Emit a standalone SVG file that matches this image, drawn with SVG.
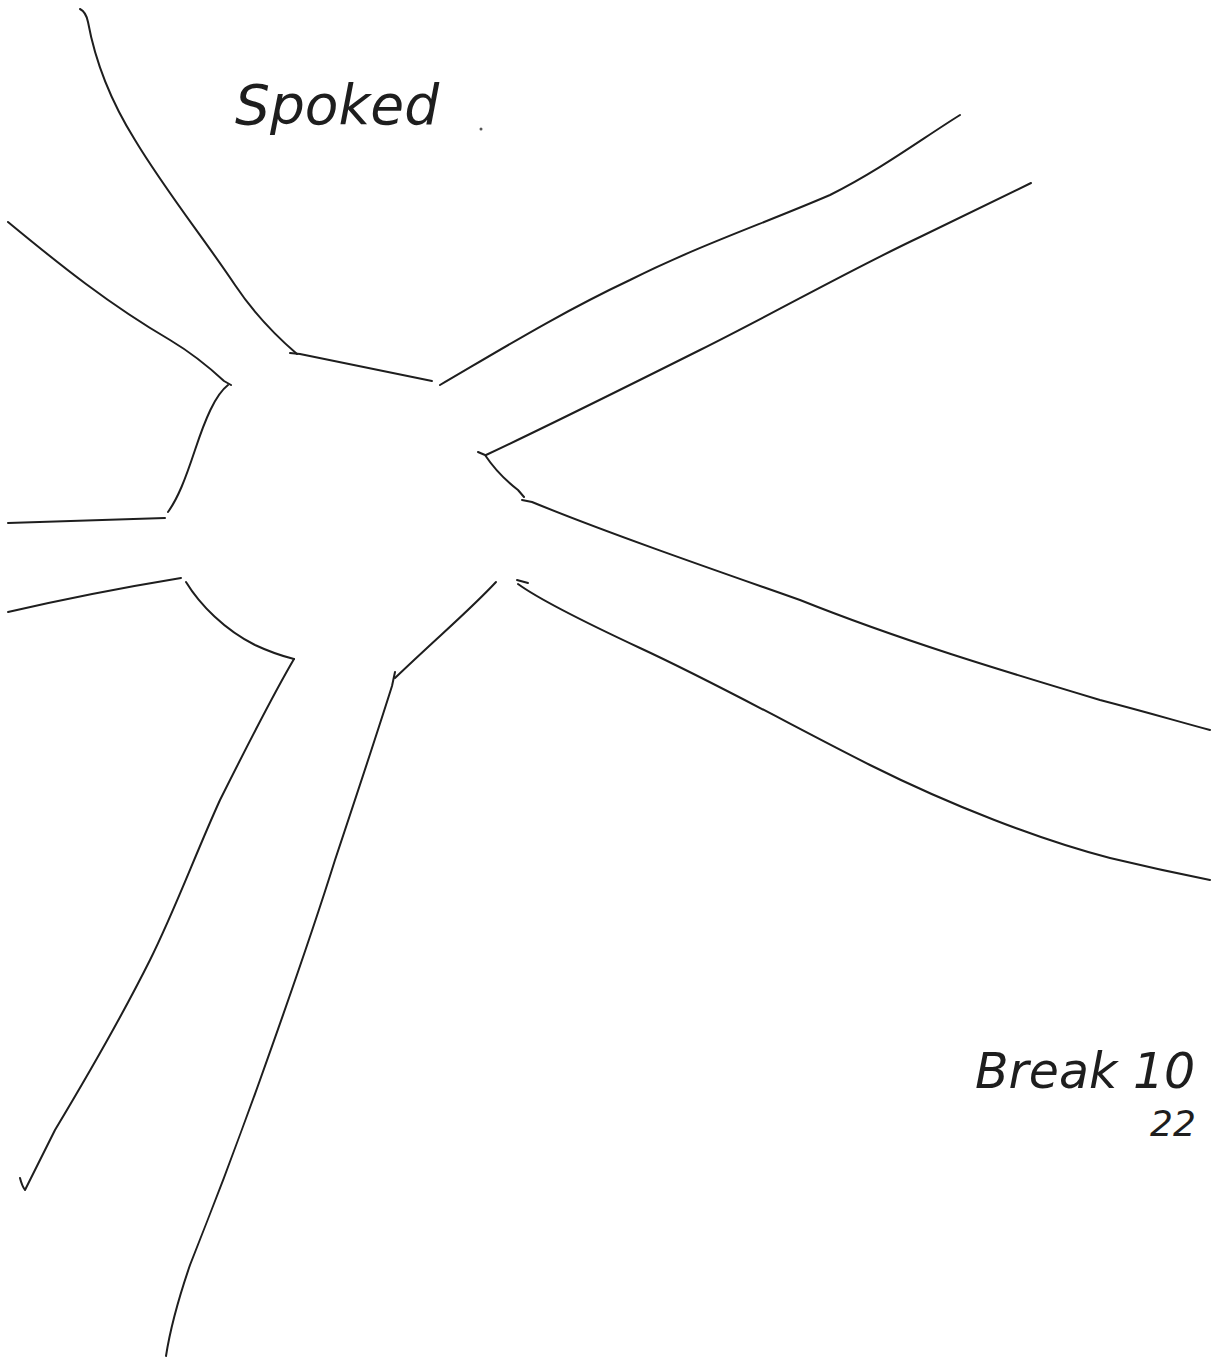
<svg xmlns="http://www.w3.org/2000/svg" width="1212" height="1359" viewBox="0 0 1212 1359">
<style>
.s{fill:none;stroke:#1e1e1e;stroke-width:2;stroke-linecap:round;stroke-linejoin:round}
.t{font-family:"DejaVu Sans",sans-serif;font-style:italic;fill:#1e1e1e;font-weight:300}
</style>
<rect width="1212" height="1359" fill="#ffffff"/>
<g id="spokes">
<path class="s" d="M80,9 Q86,12 88,22 C95,60 110,100 135,140 C165,190 205,240 235,285 C255,315 275,335 297,354"/>
<path class="s" d="M290,353 L300,354 L432,381"/>
<path class="s" d="M8,222 C60,265 110,305 170,340 C195,355 210,368 224,381 L231,385"/>
<path class="s" d="M228,385 C215,395 205,420 195,450 C185,480 178,498 168,512"/>
<path class="s" d="M8,523 L165,518"/>
<path class="s" d="M8,612 C60,600 120,588 181,578"/>
<path class="s" d="M186,582 C200,605 225,630 255,645 C270,652 282,656 294,659"/>
<path class="s" d="M294,659 C270,700 245,750 220,800 C195,855 175,910 150,960 C120,1020 85,1080 55,1130 C40,1160 30,1180 25,1190 Q22,1186 20,1178"/>
<path class="s" d="M496,582 C470,610 440,635 395,678"/>
<path class="s" d="M395,672 L392,686 C375,740 355,800 335,860 C310,940 285,1010 260,1080 C235,1150 210,1215 190,1265 C178,1300 170,1330 166,1356"/>
<path class="s" d="M517,580 L528,583"/>
<path class="s" d="M518,584 C540,600 580,620 640,648 C720,685 800,730 870,765 C950,805 1040,840 1110,858 C1160,870 1190,876 1210,880"/>
<path class="s" d="M522,500 L532,502 C600,530 700,565 800,600 C900,640 1000,670 1100,700 C1150,713 1180,722 1210,730"/>
<path class="s" d="M478,452 L485,455 C495,470 505,480 518,490 L524,497"/>
<path class="s" d="M486,455 C550,425 620,390 700,350 C780,310 850,270 920,237 C970,213 1005,196 1031,183"/>
<path class="s" d="M440,385 C500,350 560,313 630,280 C700,245 760,225 830,195 C880,170 920,140 960,115"/>
</g>
<circle cx="481" cy="129" r="1.5" fill="#555"/>
<g id="labels">
<text class="t" x="235" y="124" font-size="55">Spoked</text>
<text class="t" x="975" y="1088" font-size="49">Break 10</text>
<text class="t" x="1150" y="1136" font-size="36">22</text>
</g>
</svg>
